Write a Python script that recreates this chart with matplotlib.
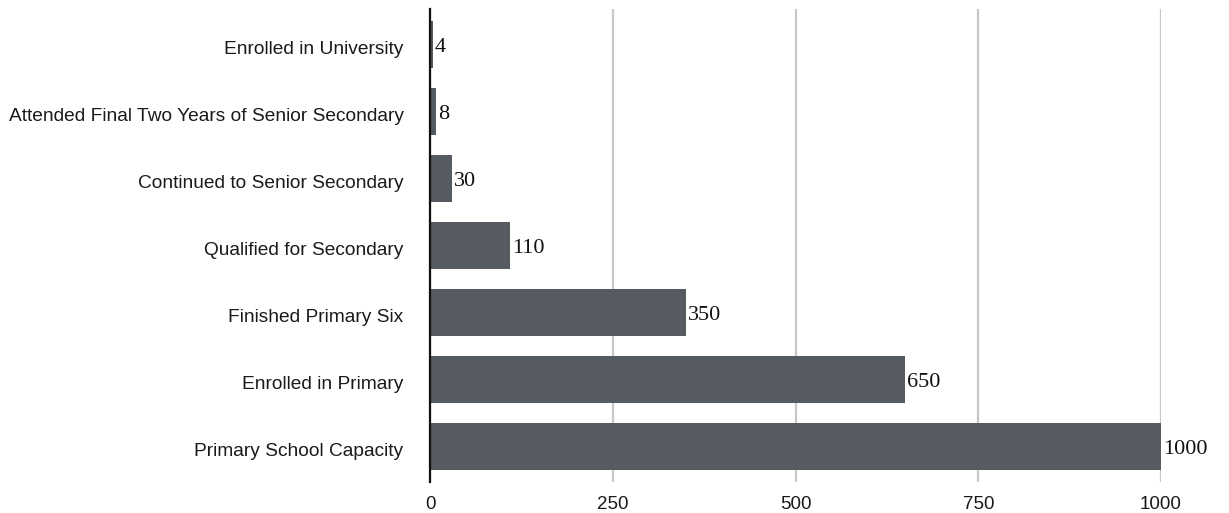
import matplotlib
matplotlib.use("Agg")
import matplotlib.pyplot as plt
from matplotlib.transforms import ScaledTranslation

categories = ["Primary School Capacity", "Enrolled in Primary", "Finished Primary Six",
              "Qualified for Secondary", "Continued to Senior Secondary",
              "Attended Final Two Years of Senior Secondary", "Enrolled in University"]
values = [1000, 650, 350, 110, 30, 8, 4]
x_ticks = [0, 250, 500, 750, 1000]

W, H = 1229, 513
fig = plt.figure(figsize=(W/100, H/100), dpi=100)
ax = fig.add_axes([430/W, (H-482)/H, (1161-430)/W, (482-9)/H])

pos = list(range(len(categories)))
ax.barh(pos, values, height=0.7, color="#565a61", zorder=2)
ax.set_ylim(-0.53, len(categories) - 0.47)
ax.set_xlim(0, 1000)
ax.set_yticks(pos)
ax.set_yticklabels(categories, fontsize=13.8, family="Liberation Sans", color="#1a1a1a")
ax.set_xticks(x_ticks)
ax.set_xticklabels([str(t) for t in x_ticks], fontsize=13.5, family="Liberation Sans", color="#1a1a1a")
ax.tick_params(axis="both", length=0)
ax.tick_params(axis="y", pad=19)
ax.tick_params(axis="x", pad=10)
ax.xaxis.grid(True, color="#c8c8c8", linewidth=1.6, zorder=0)
ax.set_axisbelow(True)
for s in ["top", "right", "bottom"]:
    ax.spines[s].set_visible(False)
ax.spines["left"].set_color("#111111")
ax.spines["left"].set_linewidth(1.6)
ax.spines["left"].set_zorder(3)

shift = ScaledTranslation(0, -3/100, fig.dpi_scale_trans)
for lbl in ax.get_yticklabels():
    lbl.set_transform(lbl.get_transform() + shift)

for p, v in zip(pos, values):
    ax.text(v + 3, p - 0.04, str(v), va="center", ha="left", fontsize=16,
            family="Liberation Serif", color="#111111", clip_on=False)

fig.savefig("out.png", dpi=100)
